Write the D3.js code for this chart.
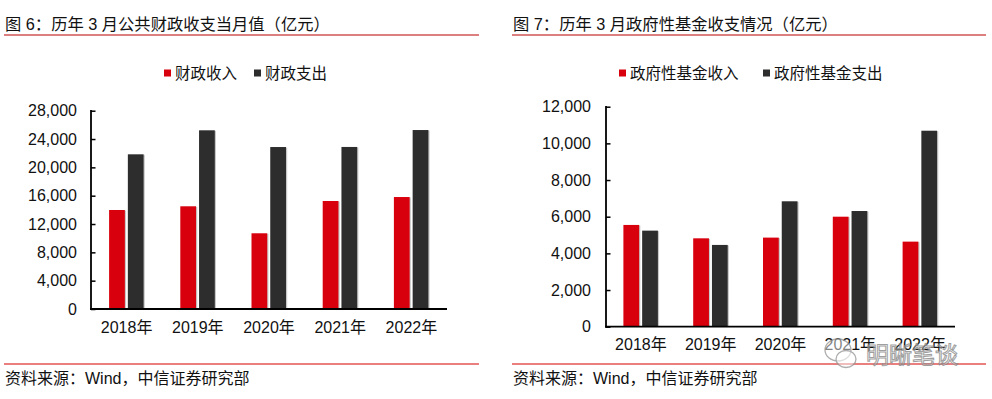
<!DOCTYPE html>
<html>
<head>
<meta charset="utf-8">
<script src="https://cdn.jsdelivr.net/npm/d3@7/dist/d3.min.js"></script>
<style>
  html, body { margin: 0; padding: 0; background: #fff; }
  svg { display: block; font-family: "Liberation Sans", Arial, "Noto Sans CJK SC", sans-serif; }
</style>
</head>
<body>
<svg id="chart" width="992" height="399"></svg>
<script>
// categories shared by both panels
var years = ["2018年", "2019年", "2020年", "2021年", "2022年"];

// 图6 public finance, 亿元
var fiscalSeries = ["财政收入", "财政支出"];
var fiscalIncome = [13980, 14500, 10690, 15250, 15810];
var fiscalSpend = [21840, 25230, 22870, 22880, 25270];
var fiscalTicks = [0, 4000, 8000, 12000, 16000, 20000, 24000, 28000];

// 图7 government fund, 亿元
var fundSeries = ["政府性基金收入", "政府性基金支出"];
var fundIncome = [5550, 4820, 4860, 6000, 4640];
var fundSpend = [5240, 4460, 6840, 6310, 10690];
var fundTicks = [0, 2000, 4000, 6000, 8000, 10000, 12000];

var RED = "#d9000d";
var DARK = "#2d2d2d";

var svg = d3.select("#chart");
var fmt = d3.format(",");

function drawPanel(opt) {
    var g = svg.append("g");

    // title + rule
    g.append("text")
        .attr("x", opt.titleX).attr("y", 30)
        .attr("font-size", 16.3).attr("fill", "#111")
        .text(opt.title);
    g.append("line")
        .attr("x1", opt.ruleX0).attr("x2", opt.ruleX1)
        .attr("y1", 35).attr("y2", 35)
        .attr("stroke", "#b80000").attr("stroke-width", 1.2);

    // legend
    var lg = g.append("g");
    opt.series.forEach(function (s, i) {
        var lx = opt.legendX[i];
        lg.append("rect")
            .attr("x", lx).attr("y", 69.5)
            .attr("width", 7).attr("height", 7)
            .attr("fill", i === 0 ? RED : DARK);
        lg.append("text")
            .attr("x", lx + 11).attr("y", 79)
            .attr("font-size", 15.5).attr("fill", "#111")
            .text(s);
    });

    var y = d3.scaleLinear()
        .domain([0, opt.yMax])
        .range([opt.y0, opt.yTop]);

    var x = d3.scaleBand()
        .domain(years)
        .range([opt.x0, opt.x1]);

    var sub = d3.scaleBand()
        .domain(opt.series)
        .range([0, 34.5])
        .paddingInner(0.16);

    var rows = years.map(function (yr, i) {
        return { year: yr, vals: [opt.income[i], opt.spend[i]] };
    });

    var groups = g.selectAll("g.grp")
        .data(rows)
        .enter().append("g")
        .attr("class", "grp")
        .attr("transform", function (d) {
            return "translate(" + (x(d.year) + x.bandwidth() / 2 - 17.5) + ",0)";
        });

    var cells = groups.selectAll("g.bar")
        .data(function (d) {
            return d.vals.map(function (v, i) { return { k: opt.series[i], v: v, i: i }; });
        })
        .enter().append("g").attr("class", "bar");

    // faint right-edge shadow like the source export
    cells.append("rect")
        .attr("x", function (d) { return sub(d.k) + 1.2; })
        .attr("y", function (d) { return y(d.v) + 0.5; })
        .attr("width", sub.bandwidth())
        .attr("height", function (d) { return opt.y0 - y(d.v) - 0.5; })
        .attr("fill", "#c8c8c8");
    cells.append("rect")
        .attr("x", function (d) { return sub(d.k); })
        .attr("y", function (d) { return y(d.v); })
        .attr("width", sub.bandwidth())
        .attr("height", function (d) { return opt.y0 - y(d.v); })
        .attr("fill", function (d) { return d.i === 0 ? RED : DARK; });

    // y axis, ticks point inward
    var yAxis = d3.axisRight(y)
        .tickValues(opt.ticks)
        .tickSize(4.5)
        .tickFormat("");
    var ya = g.append("g")
        .attr("transform", "translate(" + opt.x0 + ",0)")
        .call(yAxis);
    ya.select(".domain").remove();
    ya.selectAll(".tick line").attr("stroke", "#000").attr("stroke-width", 1.5);
    ya.append("line")
        .attr("x1", 0).attr("x2", 0)
        .attr("y1", opt.yTop - 0.75).attr("y2", opt.y0 + 1)
        .attr("stroke", "#000").attr("stroke-width", 1.8);

    g.selectAll("text.ylab")
        .data(opt.ticks)
        .enter().append("text")
        .attr("class", "ylab")
        .attr("x", opt.labelRight)
        .attr("y", function (d) { return y(d) + 5.7; })
        .attr("text-anchor", "end")
        .attr("font-size", 16).attr("fill", "#111")
        .text(function (d) { return fmt(d); });

    // x axis
    var xAxis = d3.axisBottom(x).tickSize(0).tickPadding(0);
    var xa = g.append("g")
        .attr("transform", "translate(0," + opt.y0 + ")")
        .call(xAxis);
    xa.select(".domain").remove();
    xa.selectAll(".tick text").remove();
    xa.append("line")
        .attr("x1", opt.x0 - 0.9).attr("x2", opt.x1)
        .attr("y1", 0).attr("y2", 0)
        .attr("stroke", "#000").attr("stroke-width", 1.8);

    g.selectAll("text.xlab")
        .data(years)
        .enter().append("text")
        .attr("class", "xlab")
        .attr("x", function (d) { return x(d) + x.bandwidth() / 2; })
        .attr("y", opt.xLabelY)
        .attr("text-anchor", "middle")
        .attr("font-size", 16).attr("fill", "#111")
        .text(function (d) { return d; });

    // bottom rule + source
    g.append("line")
        .attr("x1", opt.ruleX0).attr("x2", opt.ruleX1)
        .attr("y1", 364).attr("y2", 364)
        .attr("stroke", "#d40000").attr("stroke-width", 1.2);
    g.append("text")
        .attr("x", opt.titleX).attr("y", 384)
        .attr("font-size", 16).attr("fill", "#111")
        .text("资料来源：Wind，中信证券研究部");
}

drawPanel({
    title: "图 6：历年 3 月公共财政收支当月值（亿元）",
    titleX: 5, ruleX0: 4, ruleX1: 479,
    series: fiscalSeries, legendX: [164, 254],
    income: fiscalIncome, spend: fiscalSpend,
    ticks: fiscalTicks, yMax: 28000,
    x0: 91, x1: 447, y0: 309, yTop: 110.7,
    labelRight: 77, xLabelY: 333
});

drawPanel({
    title: "图 7：历年 3 月政府性基金收支情况（亿元）",
    titleX: 513, ruleX0: 512, ruleX1: 986,
    series: fundSeries, legendX: [619, 763],
    income: fundIncome, spend: fundSpend,
    ticks: fundTicks, yMax: 12000,
    x0: 606, x1: 955, y0: 326.7, yTop: 106.7,
    labelRight: 591, xLabelY: 350
});

// watermark overlay (sits over the 2021/2022 labels as in the source image)
var wm = svg.append("g").attr("opacity", 0.8);
wm.append("ellipse").attr("cx", 838).attr("cy", 350).attr("rx", 13).attr("ry", 11)
    .attr("fill", "rgba(255,255,255,0.6)").attr("stroke", "#999").attr("stroke-width", 1.3);
wm.append("ellipse").attr("cx", 846).attr("cy", 359).attr("rx", 10).attr("ry", 8.5)
    .attr("fill", "rgba(255,255,255,0.6)").attr("stroke", "#999").attr("stroke-width", 1.3);
wm.append("text")
    .attr("x", 866).attr("y", 363)
    .attr("font-size", 23)
    .attr("fill", "rgba(255,255,255,0.55)")
    .attr("stroke", "#888").attr("stroke-width", 1)
    .text("明晰笔谈");
</script>
</body>
</html>
